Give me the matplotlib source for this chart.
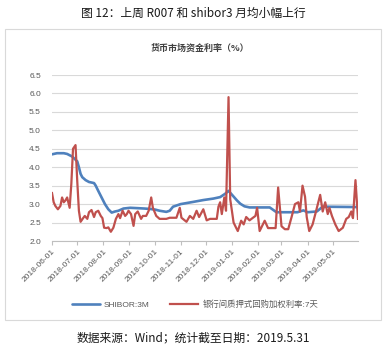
import matplotlib
matplotlib.use("Agg")
import matplotlib.pyplot as plt
import matplotlib.dates as mdates
from matplotlib.patches import Rectangle
import pandas as pd

plt.rcParams['font.family'] = ['Liberation Sans', 'Noto Sans CJK SC', 'DejaVu Sans']

# ---------------- data ----------------
shibor_dates = ["2018-06-01", "2018-06-07", "2018-06-15", "2018-06-19", "2018-06-25",
                "2018-07-01", "2018-07-03", "2018-07-05", "2018-07-07", "2018-07-11",
                "2018-07-15", "2018-07-21", "2018-07-23", "2018-07-26", "2018-07-30",
                "2018-08-03", "2018-08-07", "2018-08-11", "2018-08-15", "2018-08-19",
                "2018-08-25", "2018-09-02", "2018-09-11", "2018-09-19", "2018-09-25",
                "2018-10-02", "2018-10-07", "2018-10-15", "2018-10-19", "2018-10-23",
                "2018-11-01", "2018-11-16", "2018-11-28", "2018-12-10", "2018-12-18",
                "2018-12-24", "2018-12-28", "2019-01-02", "2019-01-07", "2019-01-11",
                "2019-01-16", "2019-01-22", "2019-02-15", "2019-02-23", "2019-03-20",
                "2019-03-27", "2019-04-01", "2019-04-12", "2019-04-19", "2019-05-31"]
shibor_vals = [4.35, 4.38, 4.38, 4.36, 4.29,
               4.16, 4.00, 3.82, 3.73, 3.65,
               3.60, 3.57, 3.50, 3.36, 3.18,
               3.00, 2.86, 2.77, 2.80, 2.82,
               2.88, 2.90, 2.89, 2.88, 2.87,
               2.85, 2.82, 2.79, 2.82, 2.93,
               3.00, 3.06, 3.11, 3.15, 3.19,
               3.28, 3.36, 3.23, 3.10, 3.01,
               2.94, 2.91, 2.91, 2.78, 2.78,
               2.83, 2.78, 2.80, 2.93, 2.92]

r007_dates = ["2018-06-01", "2018-06-03", "2018-06-05", "2018-06-08", "2018-06-11",
              "2018-06-13", "2018-06-15", "2018-06-17", "2018-06-19", "2018-06-22",
              "2018-06-24", "2018-06-26", "2018-06-29", "2018-07-01", "2018-07-03",
              "2018-07-05", "2018-07-08", "2018-07-10", "2018-07-13", "2018-07-15",
              "2018-07-18", "2018-07-21", "2018-07-23", "2018-07-26", "2018-07-29",
              "2018-07-31", "2018-08-02", "2018-08-05", "2018-08-07", "2018-08-10",
              "2018-08-13", "2018-08-16", "2018-08-19", "2018-08-21", "2018-08-24",
              "2018-08-27", "2018-08-29", "2018-08-31", "2018-09-03", "2018-09-06",
              "2018-09-08", "2018-09-11", "2018-09-15", "2018-09-17", "2018-09-21",
              "2018-09-24", "2018-09-27", "2018-09-29", "2018-10-03", "2018-10-07",
              "2018-10-11", "2018-10-15", "2018-10-19", "2018-10-23", "2018-10-27",
              "2018-10-31", "2018-11-02", "2018-11-08", "2018-11-12", "2018-11-16",
              "2018-11-20", "2018-11-23", "2018-11-28", "2018-12-02", "2018-12-06",
              "2018-12-10", "2018-12-14", "2018-12-16", "2018-12-18", "2018-12-20",
              "2018-12-23", "2018-12-25", "2018-12-28", "2018-12-30", "2019-01-01",
              "2019-01-03", "2019-01-06", "2019-01-08", "2019-01-12", "2019-01-15",
              "2019-01-18", "2019-01-22", "2019-01-26", "2019-01-29", "2019-01-31",
              "2019-02-03", "2019-02-09", "2019-02-13", "2019-02-22", "2019-02-25",
              "2019-03-01", "2019-03-05", "2019-03-09", "2019-03-13", "2019-03-17",
              "2019-03-21", "2019-03-23", "2019-03-26", "2019-03-29", "2019-03-31",
              "2019-04-03", "2019-04-07", "2019-04-11", "2019-04-16", "2019-04-19",
              "2019-04-22", "2019-04-25", "2019-04-27", "2019-04-30", "2019-05-04",
              "2019-05-08", "2019-05-13", "2019-05-17", "2019-05-20", "2019-05-23",
              "2019-05-25", "2019-05-28", "2019-05-31"]
r007_vals = [3.30, 3.05, 2.95, 2.86, 2.95,
             3.18, 3.05, 3.10, 3.18, 2.90,
             3.55, 4.50, 4.60, 3.64, 2.82,
             2.52, 2.62, 2.68, 2.60, 2.78,
             2.84, 2.65, 2.78, 2.82, 2.68,
             2.62, 2.36, 2.35, 2.37, 2.25,
             2.36, 2.60, 2.73, 2.62, 2.82,
             2.68, 2.73, 2.82, 2.73, 2.41,
             2.73, 2.80, 2.60, 2.68, 2.68,
             2.82, 3.18, 2.90, 2.68, 2.60,
             2.60, 2.60, 2.63, 2.63, 2.63,
             2.90, 2.63, 2.52, 2.68, 2.60,
             2.82, 2.65, 2.86, 2.56, 2.60,
             2.60, 2.60, 2.93, 3.05, 2.73,
             3.18, 2.82, 5.90, 3.13, 2.82,
             2.50, 2.36, 2.27, 2.55, 2.45,
             2.65, 2.56, 2.63, 2.68, 2.90,
             2.27, 2.55, 2.35, 2.35, 3.45,
             2.40, 2.32, 2.32, 2.65, 3.00,
             3.05, 2.80, 3.50, 3.20, 2.65,
             2.27, 2.45, 2.80, 3.25, 2.80,
             3.05, 2.73, 2.90, 2.68, 2.45,
             2.27, 2.36, 2.60, 2.65, 2.80,
             2.62, 3.65, 2.60]

series_labels = ["SHIBOR:3M", "银行间质押式回购加权利率:7天"]
y_ticks = [2.0, 2.5, 3.0, 3.5, 4.0, 4.5, 5.0, 5.5, 6.0, 6.5]
x_start, x_end = "2018-06-01", "2019-05-31"
fig_title = "图 12：上周 R007 和 shibor3 月均小幅上行"
chart_title = "货币市场资金利率（%）"
source_text = "数据来源：Wind；统计截至日期：2019.5.31"

# ---------------- figure ----------------
W, H = 385, 353
fig = plt.figure(figsize=(W / 100, H / 100), dpi=100)
fig.patch.set_facecolor("white")

# outer chart frame
fig.add_artist(Rectangle((5 / W, 1 - 320 / H), 376 / W, 291 / H,
                         transform=fig.transFigure, fill=False,
                         edgecolor="#D9D9D9", linewidth=0.8))

fig.text(193 / W, 1 - 13 / H, fig_title, ha="center", va="center",
         fontsize=8.5, color="#1a1a1a", family=['Noto Sans CJK SC', 'DejaVu Sans'])
fig.text(200 / W, 1 - 48 / H, chart_title, ha="center", va="center",
         fontsize=6.5, fontweight="bold", color="#404040",
         family=['Noto Sans CJK SC', 'DejaVu Sans'])
fig.text(193 / W, 1 - 338 / H, source_text, ha="center", va="center",
         fontsize=8.5, color="#1a1a1a", family=['Noto Sans CJK SC', 'DejaVu Sans'])

left, right, top, bottom = 52 / W, 358 / W, 1 - 75 / H, 1 - 241 / H
ax = fig.add_axes([left, bottom, right - left, top - bottom])

sd = pd.to_datetime(shibor_dates)
rd = pd.to_datetime(r007_dates)
l1, = ax.plot(sd, shibor_vals, color="#4F81BD", linewidth=1.9, solid_capstyle="round",
              solid_joinstyle="round", label=series_labels[0])
l2, = ax.plot(rd, r007_vals, color="#C0504D", linewidth=1.6, solid_joinstyle="round",
              label=series_labels[1])

ax.set_xlim(pd.Timestamp(x_start), pd.Timestamp(x_end))
ax.set_ylim(2.0, 6.5)
ax.set_yticks(y_ticks)
ax.set_yticklabels([f"{v:.1f}" for v in y_ticks])
ax.yaxis.grid(True, color="#D9D9D9", linewidth=0.8)
ax.set_axisbelow(True)

ax.xaxis.set_major_locator(mdates.MonthLocator())
ax.xaxis.set_major_formatter(mdates.DateFormatter("%Y-%m-%d"))
for lab in ax.get_xticklabels():
    lab.set_rotation(45)
    lab.set_ha("right")
    lab.set_rotation_mode("anchor")

for s in ["top", "right", "left"]:
    ax.spines[s].set_visible(False)
ax.spines["bottom"].set_color("#BFBFBF")
ax.spines["bottom"].set_linewidth(0.8)
ax.tick_params(axis="y", length=0, labelsize=6, labelcolor="#595959", pad=8)
ax.tick_params(axis="x", length=3, color="#BFBFBF", labelsize=6,
               labelcolor="#595959", pad=2)

leg = fig.legend(handles=[l1, l2], labels=series_labels, loc="center",
                 bbox_to_anchor=(195 / W, 1 - 305 / H), ncol=2, frameon=False,
                 handlelength=3.4, columnspacing=2.4, handletextpad=0.5,
                 prop={'family': ['Liberation Sans', 'Noto Sans CJK SC'], 'size': 6})
for t in leg.get_texts():
    t.set_color("#595959")

fig.savefig("out.png", dpi=100, facecolor="white")
